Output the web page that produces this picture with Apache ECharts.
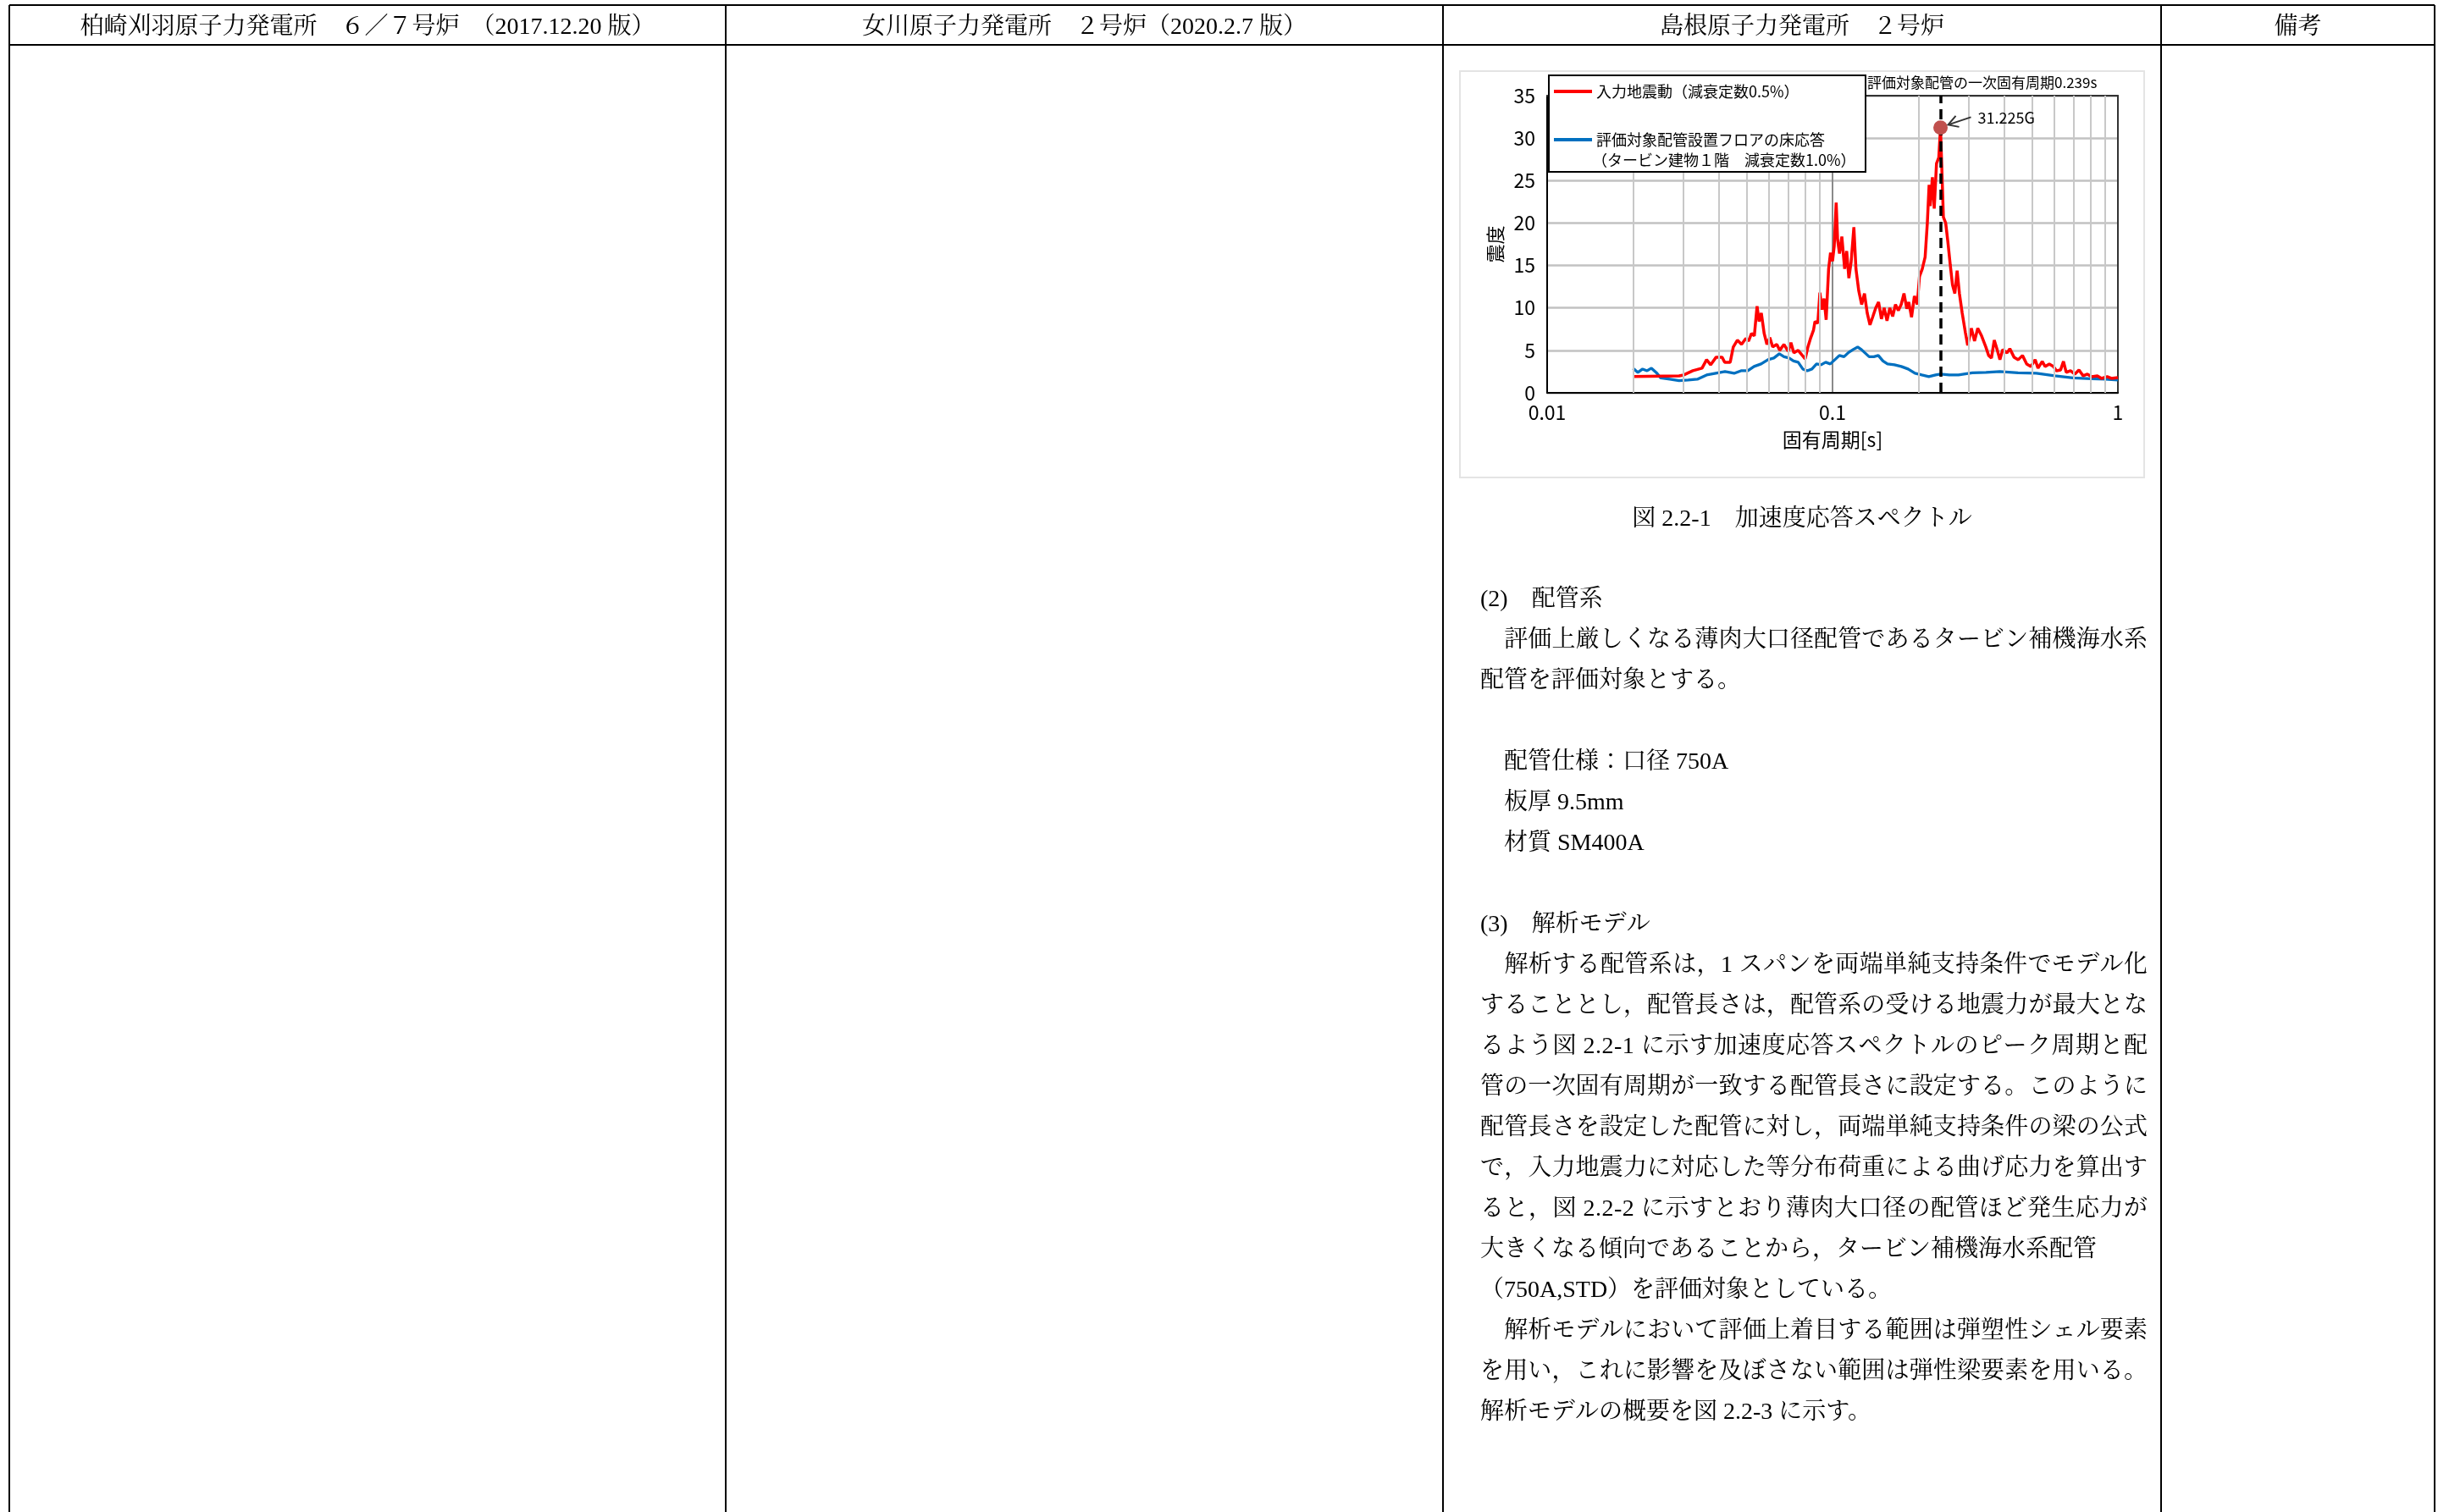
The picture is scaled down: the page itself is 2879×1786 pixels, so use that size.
<!DOCTYPE html>
<html><head><meta charset="utf-8">
<script src="https://cdn.jsdelivr.net/npm/echarts@6/dist/echarts.min.js"></script>
<style>html,body{margin:0;padding:0;background:#fff}#c{width:2879px;height:1786px}</style>
</head><body><div id="c"></div><script>
// ---- data ----
const redT = [0.0200,0.0290,0.0301,0.0324,0.0349,0.0362,0.0374,0.0391,0.0410,0.0419,0.0438,0.0449,0.0464,0.0480,0.0497,0.0508,0.0520,0.0532,0.0544,0.0553,0.0563,0.0576,0.0589,0.0603,0.0617,0.0638,0.0653,0.0676,0.0699,0.0715,0.0732,0.0758,0.0784,0.0802,0.0820,0.0839,0.0858,0.0868,0.0888,0.0903,0.0919,0.0934,0.0950,0.0969,0.0984,0.1000,0.1014,0.1030,0.1042,0.1058,0.1078,0.1103,0.1121,0.1141,0.1162,0.1188,0.1208,0.1236,0.1265,0.1294,0.1323,0.1353,0.1385,0.1417,0.1450,0.1484,0.1517,0.1552,0.1588,0.1625,0.1662,0.1701,0.1740,0.1780,0.1821,0.1850,0.1892,0.1936,0.1981,0.2017,0.2063,0.2111,0.2149,0.2180,0.2199,0.2239,0.2272,0.2314,0.2357,0.2390,0.2446,0.2492,0.2538,0.2585,0.2633,0.2683,0.2733,0.2784,0.2847,0.2921,0.2976,0.3065,0.3145,0.3228,0.3330,0.3445,0.3524,0.3605,0.3688,0.3773,0.3860,0.3948,0.4087,0.4181,0.4325,0.4476,0.4631,0.4791,0.4958,0.5130,0.5249,0.5431,0.5556,0.5749,0.5950,0.6087,0.6299,0.6446,0.6592,0.6821,0.7060,0.7304,0.7557,0.7821,0.8091,0.8472,0.8764,0.9172,0.9490,1.0];
const redA = [1.93,2.0,2.1,2.6,2.9,3.9,3.3,4.2,4.2,3.6,3.6,5.4,6.2,5.7,6.4,6.1,7.0,6.7,10.2,8.4,9.4,7.0,5.7,6.5,5.4,5.7,5.0,5.7,4.9,5.9,4.7,5.0,4.4,4.0,5.4,6.5,7.4,8.4,8.2,11.8,9.8,11.1,8.6,14.6,16.5,15.5,17.3,22.4,18.0,16.4,18.4,14.6,16.7,13.5,15.4,19.5,14.6,12.0,10.4,11.7,9.4,8.0,9.0,10.0,10.7,8.7,10.0,8.5,10.0,9.0,10.4,9.7,10.4,11.7,9.9,10.7,8.9,11.4,10.4,13.7,14.6,16.0,20.0,24.5,22.0,25.4,21.7,27.0,27.7,31.225,20.7,20.0,17.7,15.1,12.7,11.7,14.4,11.7,9.4,7.1,5.6,7.6,6.1,7.6,6.7,5.4,4.4,4.1,6.2,5.1,3.9,5.1,4.7,5.2,4.2,3.9,4.4,3.4,3.1,3.9,2.9,3.7,3.1,3.4,3.1,2.6,2.7,3.7,2.4,2.6,2.2,2.7,2.0,2.2,1.9,2.0,1.7,1.9,1.7,1.8];
const blueT = [0.0200,0.0208,0.0216,0.0224,0.0232,0.0241,0.0250,0.0269,0.0290,0.0312,0.0336,0.0362,0.0390,0.0420,0.0452,0.0478,0.0505,0.0531,0.0562,0.0594,0.0623,0.0651,0.0676,0.0704,0.0730,0.0758,0.0787,0.0816,0.0847,0.0879,0.0912,0.0946,0.0982,0.1019,0.1057,0.1097,0.1138,0.1181,0.1225,0.1262,0.1295,0.1344,0.1395,0.1447,0.1502,0.1558,0.1647,0.1741,0.1840,0.1945,0.2056,0.2174,0.2297,0.2390,0.2566,0.2763,0.3087,0.3450,0.3854,0.4468,0.5180,0.6004,0.6961,0.8070,0.9018,1.0];
const blueA = [2.9,2.4,2.8,2.6,2.9,2.4,1.76,1.6,1.43,1.5,1.6,2.1,2.3,2.5,2.3,2.6,2.6,3.1,3.4,3.9,4.1,4.6,4.25,4.1,3.75,3.6,2.8,2.6,2.8,3.4,3.3,3.6,3.4,3.9,4.4,4.25,4.75,5.1,5.4,5.1,4.75,4.25,4.25,4.4,3.75,3.4,3.3,3.1,2.8,2.3,2.1,1.9,2.1,2.2,2.1,2.1,2.35,2.4,2.5,2.35,2.3,2.0,1.76,1.66,1.6,1.5];
const peakT = 0.239, peakA = 31.225;
const minorPeriods = [0.02,0.03,0.04,0.05,0.06,0.07,0.08,0.09,0.2,0.3,0.4,0.5,0.6,0.7,0.8,0.9];
const xTickLabels = ['0.01','0.1','1'];
const seriesNames = ['入力地震動（減衰定数0.5%）','評価対象配管設置フロアの床応答'];
const legendSecondLine = '（タービン建物１階　減衰定数1.0%）';
const xAxisName = '固有周期[s]';
const yAxisName = '震度';
const headers = ['柏崎刈羽原子力発電所　６／７号炉　（2017.12.20 版）','女川原子力発電所　２号炉（2020.2.7 版）','島根原子力発電所　２号炉','備考'];
const caption = '図 2.2-1　加速度応答スペクトル';
const bodyLines = [
 '(2)　配管系',
 '　評価上厳しくなる薄肉大口径配管であるタービン補機海水系',
 '配管を評価対象とする。',
 '',
 '　配管仕様：口径 750A',
 '　板厚 9.5mm',
 '　材質 SM400A',
 '',
 '(3)　解析モデル',
 '　解析する配管系は，1 スパンを両端単純支持条件でモデル化',
 'することとし，配管長さは，配管系の受ける地震力が最大とな',
 'るよう図 2.2-1 に示す加速度応答スペクトルのピーク周期と配',
 '管の一次固有周期が一致する配管長さに設定する。このように',
 '配管長さを設定した配管に対し，両端単純支持条件の梁の公式',
 'で，入力地震力に対応した等分布荷重による曲げ応力を算出す',
 'ると，図 2.2-2 に示すとおり薄肉大口径の配管ほど発生応力が',
 '大きくなる傾向であることから，タービン補機海水系配管',
 '（750A,STD）を評価対象としている。',
 '　解析モデルにおいて評価上着目する範囲は弾塑性シェル要素',
 'を用い，これに影響を及ぼさない範囲は弾性梁要素を用いる。',
 '解析モデルの概要を図 2.2-3 に示す。'
];
const justifiedLines = [1,9,10,11,12,13,14,15,18,19];

// ---- styles / layout ----
const SANS = '"Noto Sans CJK JP", "Noto Sans", sans-serif';
const DOC = '"Liberation Serif", "Noto Serif CJK JP", "Noto Sans CJK JP", serif';
const colX = [11, 857, 1704, 2552, 2875];

const chart = echarts.init(document.getElementById('c'), null, {renderer:'canvas', width:2879, height:1786});
const lbl = {color:'#000', fontSize:23, fontFamily:SANS};
const option = {
  animation:false,
  backgroundColor:'#fff',
  grid:{left:1827, top:113, width:674, height:351, show:true, backgroundColor:'#fff', borderColor:'#444', borderWidth:0, containLabel:false, outerBoundsMode:'none'},
  legend:{show:true, orient:'vertical', left:1829, top:89, selectedMode:false,
    backgroundColor:'#fff', borderColor:'#000', borderWidth:2, borderRadius:0,
    padding:[9,48,28,6], itemGap:37, itemWidth:45, itemHeight:4, icon:'rect',
    textStyle:{fontSize:18, fontFamily:SANS, color:'#000', lineHeight:20}, data:seriesNames, z:6},
  xAxis:[{type:'log', logBase:10, min:0.01, max:1, position:'bottom',
      name:xAxisName, nameLocation:'middle', nameGap:44, nameTextStyle:{color:'#000', fontSize:23, fontFamily:SANS},
      axisLine:{show:true, onZero:false, lineStyle:{color:'#000', width:2}}, axisTick:{show:false},
      axisLabel:Object.assign({margin:12, showMinLabel:true, showMaxLabel:true, formatter:(v,i)=>xTickLabels[i]}, lbl),
      splitLine:{show:true, lineStyle:{color:'#8a8a8a', width:2}}, minorTick:{show:false}, minorSplitLine:{show:false}},
    {type:'log', logBase:10, min:0.01, max:1, position:'top', axisLine:{show:true, onZero:false, lineStyle:{color:'#333', width:2}},
      axisTick:{show:false}, axisLabel:{show:false}, splitLine:{show:false}}],
  yAxis:[{type:'value', min:0, max:35, interval:5, position:'left',
      name:yAxisName, nameLocation:'middle', nameGap:50, nameRotate:90, nameTextStyle:{color:'#000', fontSize:22, fontFamily:SANS},
      axisLine:{show:true, onZero:false, lineStyle:{color:'#000', width:2}}, axisTick:{show:false},
      axisLabel:Object.assign({margin:14}, lbl),
      splitLine:{show:true, lineStyle:{color:'#c2c2c2', width:2.5}}},
    {type:'value', min:0, max:35, interval:5, position:'right', axisLine:{show:true, onZero:false, lineStyle:{color:'#333', width:2}},
      axisTick:{show:false}, axisLabel:{show:false}, splitLine:{show:false}}],
  series:[
    {name:'grid', type:'line', data:[], silent:true, z:1,
      markLine:{silent:true, symbol:['none','none'], label:{show:false}, lineStyle:{color:'#c8c8c8', width:2, type:'solid'},
        emphasis:{disabled:true}, data:minorPeriods.map(v=>({xAxis:v}))}},
    {name:seriesNames[1], type:'line', color:'#0070c0', showSymbol:false, symbol:'none', z:3,
      lineStyle:{color:'#0070c0', width:3.3}, emphasis:{disabled:true},
      data:blueT.map((t,i)=>[t,blueA[i]])},
    {name:seriesNames[0], type:'line', color:'#ff0000', showSymbol:false, symbol:'none', z:4,
      lineStyle:{color:'#ff0000', width:3.5}, emphasis:{disabled:true},
      data:redT.map((t,i)=>[t,redA[i]]),
      markLine:{silent:true, symbol:['none','none'], label:{show:false}, lineStyle:{color:'#000', width:3.5, type:[12,7]},
        emphasis:{disabled:true}, data:[{xAxis:peakT}]}},
    {name:'peak', type:'scatter', z:5, symbolSize:17, itemStyle:{color:'#c0504d', opacity:1}, emphasis:{disabled:true},
      data:[[peakT, peakA]]}
  ]
};
chart.setOption(option);

// ---- text helpers ----
const cv = document.createElement('canvas').getContext('2d');
function txt(s, x, y, size, fam, align, z){
  return {type:'text', z:z||10, silent:true, style:{text:s, x:x, y:y, fontSize:size, fontFamily:fam, fill:'#000',
    align:align||'left', textAlign:align||'left', verticalAlign:'middle', textVerticalAlign:'middle'}};
}
function justified(s, x0, x1, y, size, fam){
  cv.font = size + 'px ' + fam;
  const ch = Array.from(s);
  const ws = ch.map(c=>cv.measureText(c).width);
  const tot = ws.reduce((a,b)=>a+b,0);
  const gap = ch.length>1 ? (x1-x0-tot)/(ch.length-1) : 0;
  let x = x0; const out=[];
  ch.forEach((c,i)=>{ if(c.trim()!=='') out.push(txt(c,x,y,size,fam,'left')); x += ws[i]+gap; });
  return out;
}

const els = [];
const ln = (x1,y1,x2,y2,w,c)=>({type:'line', z:1, silent:true, shape:{x1,y1,x2,y2}, style:{stroke:c||'#000', lineWidth:w||2}});
els.push(ln(colX[0],6,colX[4],6));
els.push(ln(colX[0],53,colX[4],53));
colX.forEach(x=>els.push(ln(x,6,x,1786)));
headers.forEach((h,i)=>els.push(txt(h,(colX[i]+colX[i+1])/2,33,28,DOC,'center')));
els.push({type:'rect', z:0, silent:true, shape:{x:1724,y:84,width:808,height:480}, style:{fill:'none', stroke:'#e4e4e4', lineWidth:2}});
els.push(txt('評価対象配管の一次固有周期' + peakT + 's', 2205, 98, 17, SANS, 'left'));
els.push(txt(legendSecondLine, 1880, 189, 18, SANS, 'left', 20));
const p = chart.convertToPixel({seriesIndex:3}, [peakT, peakA]);
els.push(txt(peakA.toFixed(3)+'G', p[0]+44, p[1]-12, 18, SANS, 'left', 20));
els.push({type:'polyline', z:20, silent:true, shape:{points:[[p[0]+36,p[1]-12.5],[p[0]+9,p[1]-3.5]]}, style:{stroke:'#333', lineWidth:2, fill:null}});
els.push({type:'polyline', z:20, silent:true, shape:{points:[[p[0]+18,p[1]-14],[p[0]+9,p[1]-3.5],[p[0]+22,p[1]-1]]}, style:{stroke:'#333', lineWidth:2, fill:null}});
els.push(txt(caption, (colX[2]+colX[3])/2, 614, 28, DOC, 'center'));
bodyLines.forEach((s,i)=>{
  if(!s) return;
  const y = 709 + i*48;
  if(justifiedLines.indexOf(i)>=0) justified(s, 1748, 2536, y, 28, DOC).forEach(e=>els.push(e));
  else els.push(txt(s, 1748, y, 28, DOC, 'left'));
});
chart.setOption({graphic:{elements:els}});
</script></body></html>
